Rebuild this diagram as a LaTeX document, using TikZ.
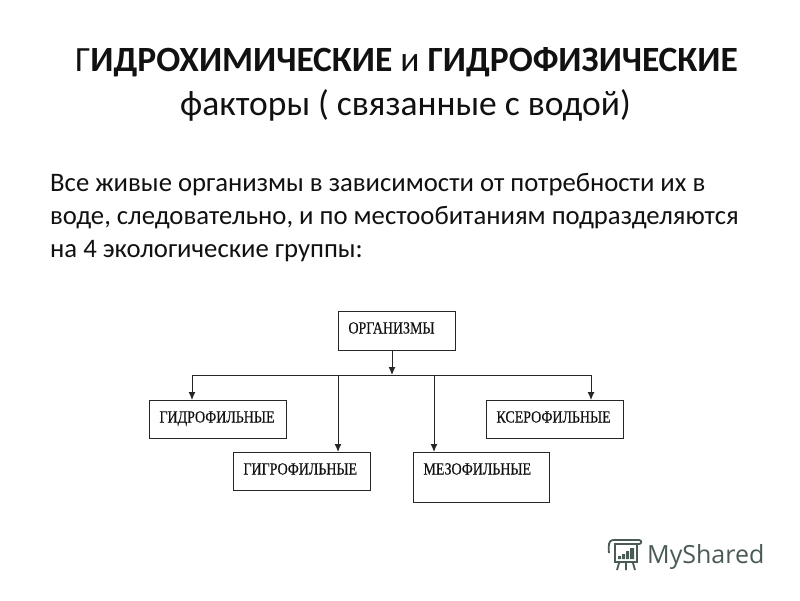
\documentclass[tikz,border=0pt]{standalone}
\usepackage{fontspec}
\setmainfont{Carlito}
\newfontfamily\termfont[FakeStretch=0.82,FakeBold=0.4]{Liberation Serif}
\newfontfamily\logofont{Open Sans}
\usepackage{xcolor}
\definecolor{TextBlack}{HTML}{111111}
\definecolor{BoxGrey}{HTML}{262626}
\definecolor{LogoGrey}{HTML}{4A5A55}
\usetikzlibrary{arrows.meta}
\newcommand\BoxWidth{137pt}
\newcommand\BoxPad{10pt}
\newcommand\BoxTop{22pt}
\tikzstyle{heading}=[rectangle,inner sep=0pt,anchor=base,text=TextBlack,font=\fontsize{35.5}{40}\selectfont]
\tikzstyle{para}=[rectangle,inner sep=0pt,anchor=base west,align=left,text=TextBlack,font=\fontsize{26.7}{33}\selectfont]
\tikzstyle{term}=[rectangle,draw=BoxGrey,line width=1pt,anchor=north west,inner ysep=0pt,inner xsep=\BoxPad,
                     text width=\BoxWidth-\BoxPad*2,text height=\BoxTop,text=TextBlack,font=\termfont\fontsize{17}{17}\selectfont]
\tikzstyle{link}=[draw=BoxGrey,line width=1pt]
\tikzstyle{drop}=[link,-{Latex[length=8pt,width=7pt]}]
\tikzstyle{logoline}=[draw=LogoGrey,line width=1.8pt]
\begin{document}
\begin{tikzpicture}[x=1pt,y=-1pt]
      \useasboundingbox (0,0) rectangle (800,600);
      \fill[white] (0,0) rectangle (800,600);
      % heading
      \node[heading] (title) at (406.5,71) {Г\textbf{ИДРОХИМИЧЕСКИЕ} и \textbf{ГИДРОФИЗИЧЕСКИЕ}};
      \node[heading] (subtitle) at (405.5,115) {факторы ( связанные с водой)};
      \node[para] (intro) at (50,257) {Все живые организмы в зависимости от потребности их в\\
                                        воде, следовательно, и по местообитаниям подразделяются\\
                                        на 4 экологические группы:};
      % boxes
      \node[term,text depth=17pt,text width=97pt] (organisms) at (338,311) {ОРГАНИЗМЫ};
      \node[term,text depth=16pt] (hydro) at (149,400) {ГИДРОФИЛЬНЫЕ};
      \node[term,text depth=16pt] (hygro) at (233,452) {ГИГРОФИЛЬНЫЕ};
      \node[term,text depth=28pt,text width=116pt] (meso) at (413,452) {МЕЗОФИЛЬНЫЕ};
      \node[term,text depth=16pt] (xero) at (486,400) {КСЕРОФИЛЬНЫЕ};
      % connectors
      \coordinate (busmid) at (392,375);
      \coordinate (busl) at (192,375);
      \coordinate (busg) at (338,375);
      \coordinate (busm) at (434,375);
      \coordinate (busr) at (591,375);
      \draw[drop] (busmid |- organisms.south) -- (busmid);
      \draw[link] (busl) -- (busr);
      \draw[drop] (busl) -- (busl |- hydro.north);
      \draw[drop] (busg) -- (busg |- hygro.north);
      \draw[drop] (busm) -- (busm |- meso.north);
      \draw[drop] (busr) -- (busr |- xero.north);
      % logo
      \draw[logoline] (613,540) -- (639,540) .. controls (642,540) and (642,544) .. (639,544) -- (615,544)
                      (613,540) .. controls (609,540) and (608,545) .. (609,553);
      \draw[logoline] (615,544) rectangle (637,562);
      \fill[LogoGrey] (618,556) rectangle (621,559) (622,554) rectangle (625,559) (626,551) rectangle (629,559) (630,548) rectangle (634,559);
      \draw[logoline] (619,563) -- (617,570) (626,563) -- (626,570) (633,563) -- (635,570);
      \node[inner sep=0pt,anchor=base west,text=LogoGrey,font=\logofont\fontsize{25}{25}\selectfont] (brand) at (647,563) {MyShared};
   \end{tikzpicture}
\end{document}
